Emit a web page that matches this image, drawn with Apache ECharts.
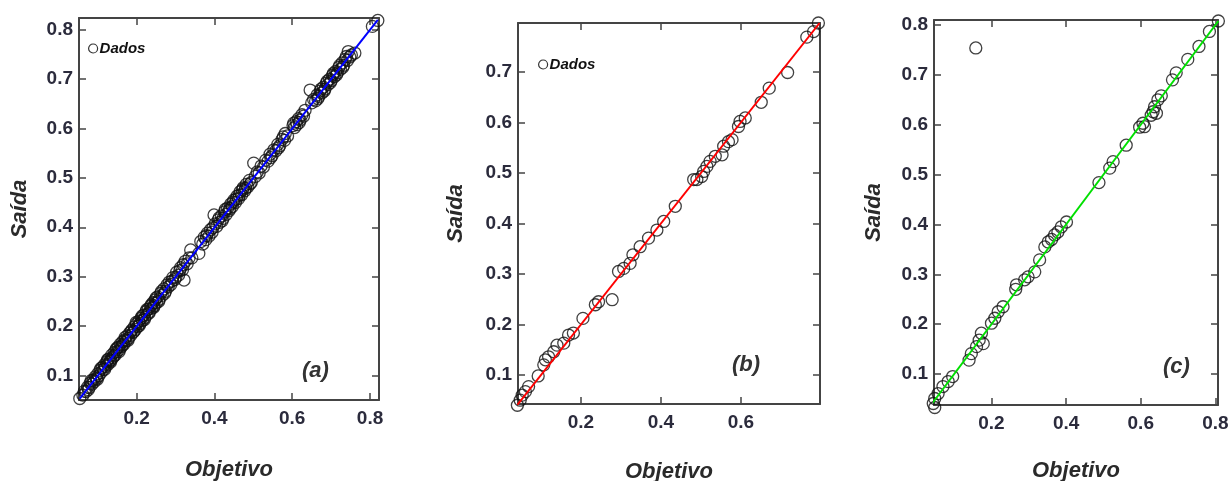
<!DOCTYPE html>
<html>
<head>
<meta charset="utf-8">
<script src="https://cdn.jsdelivr.net/npm/echarts@6/dist/echarts.min.js"></script>
<style>html,body{margin:0;padding:0;background:#fff;}#c{width:1231px;height:481px;}</style>
</head>
<body>
<div id="c"></div>
<script>
// ---- Data (Objetivo, Saída) pairs ----
const dataA = [
[0.054,0.053],[0.062,0.060],[0.066,0.068],[0.070,0.067],[0.074,0.076],[0.078,0.075],[0.081,0.084],[0.085,0.082],
[0.088,0.090],[0.091,0.087],[0.094,0.097],[0.097,0.094],[0.100,0.103],[0.103,0.099],[0.106,0.110],[0.109,0.106],
[0.112,0.116],[0.115,0.112],[0.117,0.121],[0.120,0.118],[0.123,0.127],[0.126,0.122],[0.128,0.133],[0.131,0.129],
[0.134,0.131],[0.136,0.141],[0.139,0.136],[0.142,0.146],[0.145,0.141],[0.147,0.152],[0.150,0.148],[0.153,0.157],
[0.156,0.152],[0.158,0.163],[0.161,0.158],[0.164,0.168],[0.167,0.163],[0.170,0.172],[0.173,0.170],[0.176,0.180],
[0.179,0.175],[0.182,0.186],[0.185,0.181],[0.188,0.192],[0.191,0.187],[0.194,0.198],[0.197,0.193],[0.200,0.204],
[0.203,0.199],[0.206,0.210],[0.209,0.205],[0.212,0.216],[0.215,0.211],[0.218,0.222],[0.221,0.217],[0.224,0.229],
[0.227,0.223],[0.230,0.234],[0.233,0.229],[0.236,0.240],[0.239,0.236],[0.242,0.247],[0.245,0.241],[0.248,0.253],
[0.251,0.247],[0.254,0.259],[0.258,0.254],[0.262,0.266],[0.266,0.262],[0.270,0.275],[0.274,0.270],[0.278,0.283],
[0.284,0.289],[0.288,0.284],[0.293,0.298],[0.298,0.294],[0.303,0.309],[0.308,0.303],[0.313,0.318],[0.318,0.314],
[0.322,0.293],[0.325,0.331],[0.330,0.326],[0.339,0.354],[0.342,0.338],[0.360,0.347],[0.365,0.371],[0.370,0.366],
[0.374,0.380],[0.378,0.375],[0.382,0.388],[0.386,0.382],[0.390,0.395],[0.394,0.390],[0.399,0.425],[0.402,0.407],
[0.406,0.402],[0.410,0.415],[0.414,0.410],[0.418,0.423],[0.422,0.418],[0.426,0.431],[0.430,0.426],[0.434,0.439],
[0.438,0.434],[0.442,0.447],[0.446,0.442],[0.450,0.455],[0.454,0.450],[0.458,0.463],[0.462,0.458],[0.466,0.472],
[0.470,0.466],[0.474,0.480],[0.478,0.474],[0.482,0.487],[0.486,0.482],[0.490,0.495],[0.495,0.491],[0.501,0.530],
[0.505,0.503],[0.510,0.512],[0.515,0.510],[0.520,0.524],[0.526,0.522],[0.532,0.536],[0.538,0.534],[0.543,0.548],
[0.548,0.545],[0.553,0.557],[0.558,0.555],[0.563,0.568],[0.568,0.565],[0.574,0.578],[0.580,0.576],[0.582,0.590],
[0.588,0.585],[0.602,0.606],[0.606,0.602],[0.610,0.614],[0.612,0.608],[0.616,0.620],[0.620,0.617],[0.625,0.628],
[0.629,0.625],[0.633,0.637],[0.646,0.678],[0.650,0.652],[0.655,0.659],[0.660,0.656],[0.664,0.668],[0.668,0.665],
[0.672,0.676],[0.676,0.672],[0.680,0.684],[0.684,0.680],[0.688,0.692],[0.692,0.689],[0.696,0.700],[0.700,0.697],
[0.704,0.708],[0.708,0.705],[0.712,0.716],[0.716,0.713],[0.720,0.724],[0.724,0.720],[0.728,0.733],[0.732,0.728],
[0.736,0.740],[0.739,0.746],[0.744,0.756],[0.748,0.745],[0.752,0.749],[0.761,0.753],[0.806,0.807],[0.820,0.819],
[0.076,0.071],[0.083,0.089],[0.099,0.092],[0.108,0.114],[0.118,0.112],[0.125,0.131],[0.133,0.127],[0.141,0.139],
[0.149,0.155],[0.155,0.148],[0.163,0.161],[0.171,0.177],[0.178,0.171],[0.186,0.189],[0.193,0.189],[0.199,0.207],
[0.207,0.201],[0.214,0.220],[0.220,0.213],[0.226,0.233],[0.232,0.226],[0.238,0.243],[0.244,0.238],[0.250,0.257],
[0.257,0.250],[0.264,0.270],[0.272,0.266],[0.281,0.279],[0.291,0.291],[0.301,0.299],[0.311,0.312],[0.320,0.324],
[0.335,0.338],[0.380,0.383],[0.396,0.399],[0.412,0.419],[0.420,0.413],[0.428,0.436],[0.440,0.438],[0.448,0.451],
[0.456,0.457],[0.464,0.465],[0.472,0.476],[0.480,0.479],[0.492,0.488],[0.545,0.541],[0.565,0.561],[0.577,0.583],
[0.604,0.611],[0.618,0.612],[0.666,0.661],[0.674,0.680],[0.682,0.676],[0.690,0.696],[0.698,0.693],[0.706,0.712],
[0.714,0.709],[0.722,0.728],[0.730,0.724],[0.742,0.738]
];
const dataB = [
[0.041,0.040],[0.048,0.050],[0.053,0.060],[0.061,0.067],[0.069,0.077],[0.093,0.098],[0.107,0.120],[0.111,0.130],
[0.119,0.136],[0.132,0.146],[0.140,0.159],[0.157,0.163],[0.169,0.179],[0.181,0.183],[0.205,0.212],[0.236,0.239],
[0.244,0.245],[0.278,0.249],[0.294,0.305],[0.307,0.311],[0.323,0.321],[0.330,0.338],[0.348,0.354],[0.369,0.371],
[0.390,0.387],[0.407,0.404],[0.436,0.434],[0.482,0.487],[0.490,0.487],[0.502,0.493],[0.507,0.503],[0.515,0.513],
[0.523,0.523],[0.536,0.533],[0.553,0.536],[0.557,0.553],[0.569,0.562],[0.578,0.566],[0.594,0.592],[0.598,0.602],
[0.611,0.609],[0.651,0.640],[0.671,0.668],[0.717,0.699],[0.765,0.769],[0.782,0.780],[0.794,0.797]
];
const dataC = [
[0.048,0.033],[0.044,0.041],[0.048,0.051],[0.057,0.061],[0.070,0.075],[0.084,0.085],[0.096,0.095],[0.140,0.128],
[0.146,0.141],[0.160,0.155],[0.178,0.161],[0.167,0.168],[0.173,0.182],[0.200,0.202],[0.209,0.212],[0.218,0.225],
[0.231,0.235],[0.265,0.270],[0.267,0.279],[0.289,0.289],[0.298,0.295],[0.316,0.305],[0.329,0.329],[0.343,0.355],
[0.352,0.365],[0.361,0.370],[0.369,0.379],[0.378,0.385],[0.387,0.395],[0.401,0.405],[0.488,0.484],[0.517,0.513],
[0.526,0.526],[0.561,0.559],[0.597,0.595],[0.610,0.596],[0.606,0.603],[0.628,0.619],[0.642,0.623],[0.633,0.626],
[0.637,0.636],[0.646,0.650],[0.655,0.658],[0.685,0.690],[0.695,0.704],[0.726,0.731],[0.756,0.757],[0.784,0.787],
[0.808,0.808],[0.158,0.754]
];
const fitA = [[0.054,0.053],[0.820,0.820]];
const fitB = [[0.041,0.041],[0.797,0.797]];
const fitC = [[0.042,0.042],[0.808,0.808]];
const yTicksA = [0.1,0.2,0.3,0.4,0.5,0.6,0.7,0.8];
const xTicksA = [0.2,0.4,0.6,0.8];
const yTicksB = [0.1,0.2,0.3,0.4,0.5,0.6,0.7];
const xTicksB = [0.2,0.4,0.6];
const yTicksC = [0.1,0.2,0.3,0.4,0.5,0.6,0.7,0.8];
const xTicksC = [0.2,0.4,0.6,0.8];
const panels = [
  {data: dataA, fit: fitA, color: '#0000ff', xr: [0.052,0.823], yr: [0.05,0.824], xt: xTicksA, yt: yTicksA,
   grid: {left: 79, top: 18, width: 300, height: 382}, yGap: 48, xGap: 59, label: '(a)', name: 'Dados (a)'},
  {data: dataB, fit: fitB, color: '#ff0000', xr: [0.0425,0.798], yr: [0.0425,0.797], xt: xTicksB, yt: yTicksB,
   grid: {left: 518, top: 23, width: 302, height: 381}, yGap: 51, xGap: 57, label: '(b)', name: 'Dados (b)'},
  {data: dataC, fit: fitC, color: '#00e000', xr: [0.046,0.807], yr: [0.038,0.81], xt: xTicksC, yt: yTicksC,
   grid: {left: 934, top: 20, width: 284, height: 385}, yGap: 49, xGap: 55, label: '(c)', name: 'Dados (c)'}
];

const tickFont = {fontFamily: "'Liberation Sans',sans-serif", fontWeight: 'bold', fontSize: 19, color: '#2b2b3c'};
const nameFont = {fontFamily: "'Liberation Sans',sans-serif", fontWeight: 'bold', fontStyle: 'italic', fontSize: 22, color: '#2a2a2a'};
const frame = {show: true, lineStyle: {color: '#444', width: 2}};
const fmt = v => v.toFixed(1);

const option = {grid: [], xAxis: [], yAxis: [], series: [], title: [], legend: [], animation: false, backgroundColor: '#fff'};
panels.forEach((p, i) => {
  option.grid.push(Object.assign({containLabel: false, outerBoundsMode: 'none'}, p.grid));
  const common = {type: 'value', gridIndex: i, splitLine: {show: false}, axisLine: frame};
  option.xAxis.push(Object.assign({}, common, {position: 'bottom', min: p.xr[0], max: p.xr[1],
    name: 'Objetivo', nameLocation: 'middle', nameGap: p.xGap, nameTextStyle: nameFont,
    axisTick: {show: true, inside: true, length: 7, customValues: p.xt, lineStyle: {color: '#444', width: 1.5}},
    axisLabel: Object.assign({show: true, margin: 9, customValues: p.xt, formatter: fmt}, tickFont)}));
  option.xAxis.push(Object.assign({}, common, {position: 'top', min: p.xr[0], max: p.xr[1],
    axisTick: {show: true, inside: true, length: 7, customValues: p.xt, lineStyle: {color: '#444', width: 1.5}},
    axisLabel: {show: false}}));
  option.yAxis.push(Object.assign({}, common, {position: 'left', min: p.yr[0], max: p.yr[1],
    name: 'Saída', nameLocation: 'middle', nameGap: p.yGap, nameTextStyle: nameFont,
    axisTick: {show: true, inside: true, length: 7, customValues: p.yt, lineStyle: {color: '#444', width: 1.5}},
    axisLabel: Object.assign({show: true, margin: 6, customValues: p.yt, formatter: fmt}, tickFont)}));
  option.yAxis.push(Object.assign({}, common, {position: 'right', min: p.yr[0], max: p.yr[1],
    axisTick: {show: true, inside: true, length: 7, customValues: p.yt, lineStyle: {color: '#444', width: 1.5}},
    axisLabel: {show: false}}));
  option.series.push({type: 'scatter', name: p.name, xAxisIndex: 2*i, yAxisIndex: 2*i, data: p.data,
    symbol: 'circle', symbolSize: 12, clip: false, z: 2,
    itemStyle: {color: 'rgba(255,255,255,0)', borderColor: '#111', borderWidth: 1.3}});
  option.series.push({type: 'line', name: 'fit' + i, xAxisIndex: 2*i, yAxisIndex: 2*i, data: p.fit,
    symbol: 'none', z: 3, lineStyle: {color: p.color, width: 2}});
});
option.title = [
  {text: '(a)', left: 297, top: 355},
  {text: '(b)', left: 727, top: 349},
  {text: '(c)', left: 1158, top: 351}
].map(t => Object.assign(t, {textStyle: {fontFamily: "'Liberation Sans',sans-serif", fontWeight: 'bold', fontStyle: 'italic', fontSize: 22, color: '#333'}}));
const legendBase = {orient: 'vertical', icon: 'circle', itemWidth: 9, itemHeight: 9, itemGap: 4, padding: 0, selectedMode: false,
  itemStyle: {color: '#fff', borderColor: '#000', borderWidth: 1.2},
  formatter: () => 'Dados',
  textStyle: {fontFamily: "'Liberation Sans',sans-serif", fontWeight: 'bold', fontStyle: 'italic', fontSize: 15, color: '#111', padding: [0,0,0,-3]}};
option.legend = [
  Object.assign({}, legendBase, {left: 88, top: 41, data: ['Dados (a)']}),
  Object.assign({}, legendBase, {left: 538, top: 57, data: ['Dados (b)']})
];
const chart = echarts.init(document.getElementById('c'), null, {renderer: 'canvas'});
chart.setOption(option);
</script>
</body>
</html>
